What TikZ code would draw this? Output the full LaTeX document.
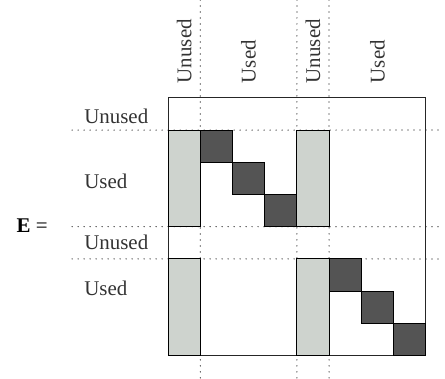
\documentclass[tikz,border=0pt]{standalone}
\usepackage{fontspec}
\setmainfont{Liberation Serif}
\definecolor{lightcell}{RGB}{206,211,206}
\definecolor{darkcell}{RGB}{84,84,84}
\tikzset{
  lbl/.style={font=\fontsize{18.5}{22}\selectfont, text=black!80, inner sep=0pt},
  guide/.style={line width=1.1pt, line cap=round, dash pattern=on 0pt off 5.3pt},
  frame/.style={draw=black!85, line width=0.9pt},
  lightbar/.style={fill=lightcell, draw=black, line width=0.9pt},
  darkbox/.style={fill=darkcell, draw=black, line width=0.9pt}
}
\begin{document}
\begin{tikzpicture}[x=1cm,y=1cm]
  \useasboundingbox (-5.22,3.04) rectangle (8.6,-8.73);
  % dotted guide lines
  \begin{scope}[guide]
    \draw (1,3.04) -- (1,-8.73);
    \draw (4,3.04) -- (4,-8.73);
    \draw (5,3.04) -- (5,-8.73);
    \draw (-2.98,-1) -- (8.45,-1);
    \draw (-2.98,-4) -- (8.45,-4);
    \draw (-2.98,-5) -- (8.45,-5);
  \end{scope}
  % matrix frame
  \draw[frame] (0,0) rectangle (8,-8);
  % unused columns in used rows
  \draw[lightbar] (0,-1) rectangle (1,-4);
  \draw[lightbar] (4,-1) rectangle (5,-4);
  \draw[lightbar] (0,-5) rectangle (1,-8);
  \draw[lightbar] (4,-5) rectangle (5,-8);
  % diagonal blocks
  \draw[darkbox] (1,-1) rectangle (2,-2);
  \draw[darkbox] (2,-2) rectangle (3,-3);
  \draw[darkbox] (3,-3) rectangle (4,-4);
  \draw[darkbox] (5,-5) rectangle (6,-6);
  \draw[darkbox] (6,-6) rectangle (7,-7);
  \draw[darkbox] (7,-7) rectangle (8,-8);
  % column labels
  \node[lbl, rotate=90, anchor=west] (c1) at (0.5,0.45) {Unused};
  \node[lbl, rotate=90, anchor=west] (c2) at (2.5,0.45) {Used};
  \node[lbl, rotate=90, anchor=west] (c3) at (4.5,0.45) {Unused};
  \node[lbl, rotate=90, anchor=west] (c4) at (6.5,0.45) {Used};
  % row labels
  \node[lbl, anchor=west] (r1) at (-2.61,-0.56) {Unused};
  \node[lbl, anchor=west] (r2) at (-2.61,-2.6) {Used};
  \node[lbl, anchor=west] (r3) at (-2.61,-4.5) {Unused};
  \node[lbl, anchor=west] (r4) at (-2.61,-5.93) {Used};
  \node[lbl, text=black] (eq) at (-4.22,-3.97) {\textbf{E} =};
\end{tikzpicture}
\end{document}
